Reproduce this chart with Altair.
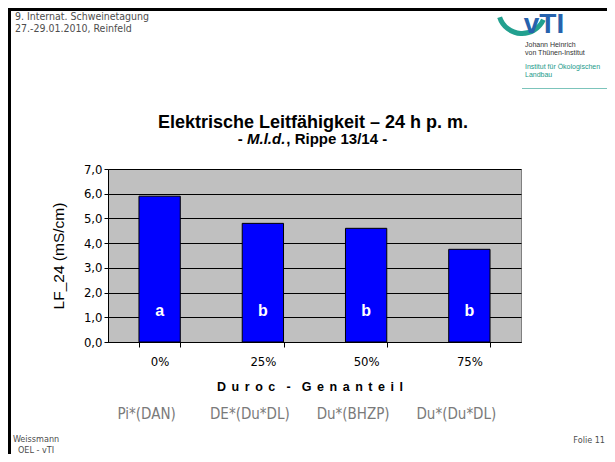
import altair as alt
import pandas as pd

categories = ["0%", "25%", "50%", "75%"]
values = [5.9, 4.8, 4.6, 3.75]
letters = ["a", "b", "b", "b"]
breeds = ["Pi*(DAN)", "DE*(Du*DL)", "Du*(BHZP)", "Du*(Du*DL)"]
y_ticks = [0, 1, 2, 3, 4, 5, 6, 7]

df = pd.DataFrame({"cat": categories, "val": values, "letter": letters, "breed": breeds})

NARROW = "Liberation Sans Narrow, DejaVu Sans Condensed, Liberation Sans"
SANS = "Liberation Sans, Arial"

# page coordinates of the plot-area origin
PL, PT = 108, 169
W, H = 413, 173
TOTAL_W, TOTAL_H = 599, 446


def px(x):
    return x - PL


def py(y):
    return y - PT


x_enc = alt.X(
    "cat:N",
    sort=categories,
    scale=alt.Scale(paddingInner=0.6, paddingOuter=0.3),
    axis=alt.Axis(
        title=None, labelAngle=0, labelFont=NARROW, labelFontSize=13,
        labelColor="black", domainColor="black", tickColor="black",
        tickSize=5, tickBand="extent", labelPadding=8, grid=False,
    ),
)
y_enc = alt.Y(
    "val:Q",
    scale=alt.Scale(domain=[0, 7], nice=False),
    axis=alt.Axis(
        title=None, values=y_ticks,
        labelExpr="replace(format(datum.value, '.1f'), '.', ',')",
        labelFont=NARROW, labelFontSize=13, labelColor="black",
        domainColor="black", tickColor="black", tickSize=4, labelPadding=2,
        grid=True, gridColor="black", gridWidth=1,
    ),
)

base = alt.Chart(df)
bars = base.mark_bar(color="#0000FF", stroke="black", strokeWidth=1).encode(x=x_enc, y=y_enc)
lett = base.mark_text(color="white", font=SANS, fontWeight="bold", fontSize=16, baseline="middle").encode(
    x=alt.X("cat:N", sort=categories), y=alt.value(py(311)), text="letter:N"
)
breed_txt = base.mark_text(color="#7a7a7a", font=NARROW, fontSize=15, baseline="middle", dx=-13).encode(
    x=alt.X("cat:N", sort=categories), y=alt.value(py(414)), text="breed:N"
)

one = alt.Chart(pd.DataFrame({"_": [0]}))


def txt(s, x, y, size, color="black", align="left", font=SANS, weight="normal", style="normal",
        angle=0, baseline="middle"):
    kw = dict(align=align, baseline=baseline, fontSize=size, color=color, font=font,
              fontWeight=weight, fontStyle=style)
    if angle:
        kw["angle"] = angle
    return one.mark_text(**kw).encode(x=alt.value(px(x)), y=alt.value(py(y)), text=alt.value(s))


def box(x1, y1, x2, y2, color):
    return one.mark_rect(color=color).encode(
        x=alt.value(px(x1)), x2=alt.value(px(x2)), y=alt.value(py(y1)), y2=alt.value(py(y2))
    )


sep = " \u2006"
axis_title = sep.join("Duroc") + sep + " " + sep + "-" + sep + " " + sep + sep.join("Genanteil")

sub_size = 15
sub_x0 = 313 - 9.892 * sub_size / 2 - 1

layers = [
    bars, lett, breed_txt,
    # header
    txt("9. Internat. Schweinetagung", 15, 17, 10.5, "#4d4d4d", font=NARROW),
    txt("27.-29.01.2010, Reinfeld", 15, 29, 10.5, "#4d4d4d", font=NARROW),
    # logo
    one.mark_arc(color="#22a08f", radius=26, radius2=21, theta=2.0, theta2=4.4).encode(
        x=alt.value(px(522)), y=alt.value(py(10))
    ),
    txt("vTI", 544, 33, 28, "#2662ad", align="center", weight="bold", baseline="alphabetic"),
    txt("Johann Heinrich", 525, 44.5, 7, "#333333"),
    txt("von Thünen-Institut", 525, 52.5, 7, "#333333"),
    txt("Institut für Ökologischen", 525, 66.5, 7, "#1a9a8a"),
    txt("Landbau", 525, 74.5, 7, "#1a9a8a"),
    box(522, 88, 607, 89, "#7cc4bb"),
    # titles
    txt("Elektrische Leitfähigkeit – 24 h p. m.", 313, 123, 18, align="center", weight="bold"),
    txt("-", sub_x0, 139, sub_size, weight="bold"),
    txt("M.l.d.", sub_x0 + 0.611 * sub_size, 139, sub_size, weight="bold", style="italic"),
    txt(", Rippe 13/14 -", sub_x0 + (0.611 + 2.556) * sub_size + 1, 139, sub_size, weight="bold"),
    # axis titles
    txt("LF_24 (mS/cm)", 59, 256, 15.5, align="center", angle=270),
    txt(axis_title, 310, 387, 12.5, align="center", weight="bold"),
    # footer
    txt("Weissmann", 36, 439, 9, "#4d4d4d", align="center", font=NARROW),
    txt("OEL - vTI", 36, 449.5, 9, "#4d4d4d", align="center", font=NARROW),
    txt("Folie 11", 605, 440, 9, "#4d4d4d", align="right", font=NARROW),
    # borders of the slide (drawn last)
    box(8, 8, 607, 11, "black"),
    box(8, 8, 11, 454, "black"),
]

chart = alt.layer(*layers).properties(
    width=W, height=H,
    padding={"left": PL - 8, "top": PT - 8, "right": TOTAL_W - (PL - 8) - W,
             "bottom": TOTAL_H - (PT - 8) - H},
    autosize=alt.AutoSizeParams(type="none"),
    background="white",
).configure_view(fill="#C0C0C0", stroke="#808080")

chart.save("out.html", embed_options={"renderer": "svg", "actions": False})
